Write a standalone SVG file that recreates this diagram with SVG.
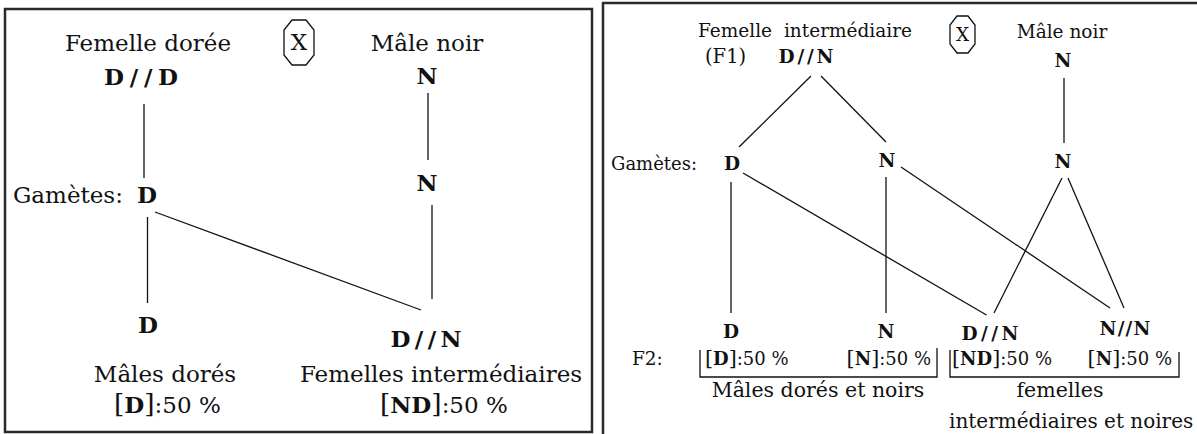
<svg xmlns="http://www.w3.org/2000/svg" width="1197" height="434" viewBox="0 0 1197 434">
<style>
text{font-family:"DejaVu Serif","Liberation Serif",serif;fill:#111}
.l{font-size:23px}
.r{font-size:18.5px}
.b{font-weight:bold}
.m{text-anchor:middle}
.e{text-anchor:end}
.br{font-size:1.15em}
.frame{fill:none;stroke:#2a2a2a;stroke-width:2.5}
.c line,.c path{stroke:#111;stroke-width:1.3;fill:none}
.oct{fill:none;stroke:#111;stroke-width:1.3}
</style>
<rect width="1197" height="434" fill="#fff"/>
<rect class="frame" x="5" y="9" width="587" height="423"/>
<path class="frame" d="M603,440 V3 H1200"/>

<g id="connectors" class="c">
<line x1="144" y1="104" x2="144" y2="178"/>
<line x1="428" y1="93" x2="428" y2="160"/>
<line x1="147.5" y1="217" x2="147.5" y2="303"/>
<line x1="155" y1="212" x2="421" y2="310"/>
<line x1="432" y1="205" x2="432" y2="299"/>
<line x1="811" y1="76" x2="739" y2="147"/>
<line x1="821" y1="76" x2="886" y2="142"/>
<line x1="1064" y1="78" x2="1064" y2="143"/>
<line x1="731" y1="182" x2="731" y2="313"/>
<line x1="743" y1="173" x2="986.5" y2="315"/>
<line x1="886" y1="177" x2="886" y2="313"/>
<line x1="901" y1="167" x2="1110" y2="308"/>
<line x1="1062" y1="178" x2="994" y2="313"/>
<line x1="1068" y1="178" x2="1124" y2="308"/>
<path d="M700,350 V377 H937 V348"/>
<path d="M950,350 V377 H1179 V352"/>
</g>

<g id="left-female">
<text class="l m" x="148" y="51">Femelle dorée</text>
<text class="l m b" x="141" y="85" textLength="74" lengthAdjust="spacing">D//D</text>
</g>
<g id="left-cross">
<polygon class="oct" points="292,20 306,20 314,30 314,55 306,65 292,65 284,55 284,30"/>
<text class="l m" x="299" y="50">X</text>
</g>
<g id="left-male">
<text class="l m" x="427" y="51">Mâle noir</text>
<text class="l m b" x="427" y="84">N</text>
</g>
<g id="left-gametes">
<text class="l" x="13" y="203">Gamètes:</text>
<text class="l m b" x="147" y="203">D</text>
<text class="l m b" x="427" y="191">N</text>
</g>
<g id="left-males">
<text class="l m b" x="148" y="333">D</text>
<text class="l m" x="165" y="382">Mâles dorés</text>
<text class="l" x="114" y="413"><tspan class="br">[</tspan><tspan class="b">D</tspan><tspan class="br">]</tspan>:50 %</text>
</g>
<g id="left-females">
<text class="l m b" x="426" y="347" textLength="71" lengthAdjust="spacing">D//N</text>
<text class="l m" x="441" y="382">Femelles intermédiaires</text>
<text class="l" x="380" y="413"><tspan class="br">[</tspan><tspan class="b">ND</tspan><tspan class="br">]</tspan>:50 %</text>
</g>

<g id="right-female">
<text class="r" x="698" y="37">Femelle</text>
<text class="r e" x="912" y="37">intermédiaire</text>
<text class="r" x="705" y="63" style="font-size:19.5px">(F1)</text>
<text class="r m b" x="806" y="63" textLength="55" lengthAdjust="spacing">D//N</text>
</g>
<g id="right-cross">
<polygon class="oct" points="957,16 968,16 975,25 975,44 968,53 957,53 950,44 950,25"/>
<text class="r m" x="962.5" y="41">X</text>
</g>
<g id="right-male">
<text class="r m" x="1062" y="38">Mâle noir</text>
<text class="r m b" x="1063" y="67">N</text>
</g>
<g id="right-gametes">
<text class="r" x="611" y="170" style="font-size:18px">Gamètes:</text>
<text class="r m b" x="732" y="170">D</text>
<text class="r m b" x="887" y="167">N</text>
<text class="r m b" x="1063" y="168">N</text>
</g>
<g id="f2-label">
<text class="r" x="632" y="365">F2:</text>
</g>
<g id="f2-males">
<text class="r m b" x="731" y="338">D</text>
<text class="r m b" x="886" y="338">N</text>
<text class="r" x="705" y="365" style="font-size:18px"><tspan class="br">[</tspan><tspan class="b">D</tspan><tspan class="br">]</tspan>:50 %</text>
<text class="r e" x="931" y="365" style="font-size:18px"><tspan class="br">[</tspan><tspan class="b">N</tspan><tspan class="br">]</tspan>:50 %</text>
<text class="r m" x="818" y="397" style="font-size:20.5px">Mâles dorés et noirs</text>
</g>
<g id="f2-females">
<text class="r m b" x="990" y="340" textLength="57" lengthAdjust="spacing">D//N</text>
<text class="r m b" x="1125" y="335" textLength="51" lengthAdjust="spacing">N//N</text>
<text class="r" x="952" y="365" style="font-size:18px"><tspan class="br">[</tspan><tspan class="b">ND</tspan><tspan class="br">]</tspan>:50 %</text>
<text class="r e" x="1172" y="365" style="font-size:18px"><tspan class="br">[</tspan><tspan class="b">N</tspan><tspan class="br">]</tspan>:50 %</text>
<text class="r m" x="1060" y="397" style="font-size:20.5px">femelles</text>
<text class="r" x="949" y="428" style="font-size:20px">intermédiaires et noires</text>
</g>
</svg>
